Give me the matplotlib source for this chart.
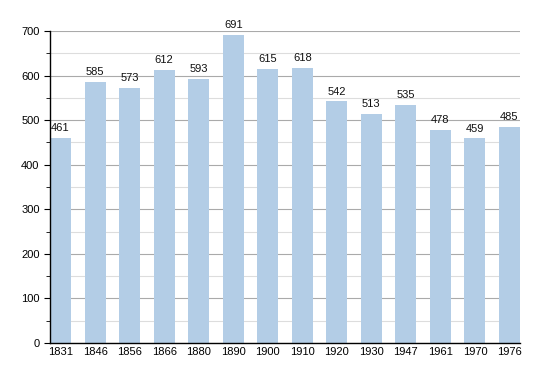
import matplotlib
matplotlib.use("Agg")
import matplotlib.pyplot as plt
import numpy as np

years = ["1831", "1846", "1856", "1866", "1880", "1890", "1900", "1910", "1920", "1930", "1947", "1961", "1970", "1976"]
population = [461, 585, 573, 612, 593, 691, 615, 618, 542, 513, 535, 478, 459, 485]

plt.rcParams['font.family'] = ['Liberation Sans', 'DejaVu Sans']
fig = plt.figure(figsize=(5.5, 3.73), dpi=100)
ax = fig.add_axes([50/550, 1-343/373, 470/550, 312/373])

w = 0.61
x = np.arange(len(years))
ax.bar(x, population, width=w, color='#b3cde6', zorder=2)
for xi, v in zip(x, population):
    ax.annotate(str(v), (xi, v), xytext=(0, 3.5), textcoords='offset points',
                ha='center', va='bottom', fontsize=8, color='#111111', zorder=3)

ax.set_xlim(-w/2, len(years) - 1 + w/2)
ax.set_ylim(0, 700)
ax.set_xticks(x)
ax.set_xticklabels(years, fontsize=8)
ax.set_yticks(np.arange(0, 701, 100))
ax.set_yticks(np.arange(50, 700, 100), minor=True)
ax.tick_params(axis='y', which='major', labelsize=8, length=4, direction='out')
ax.tick_params(axis='y', which='minor', length=3, direction='out')
ax.tick_params(axis='x', length=0, pad=3)
ax.grid(axis='y', which='major', color='#aaaaaa', linewidth=0.8, zorder=0)
ax.grid(axis='y', which='minor', color='#dddddd', linewidth=0.8, zorder=0)
ax.set_axisbelow(True)
for s in ['top', 'right']:
    ax.spines[s].set_visible(False)
ax.spines['left'].set_linewidth(1.0)
ax.spines['bottom'].set_linewidth(1.0)

fig.savefig('out.png', dpi=100)
